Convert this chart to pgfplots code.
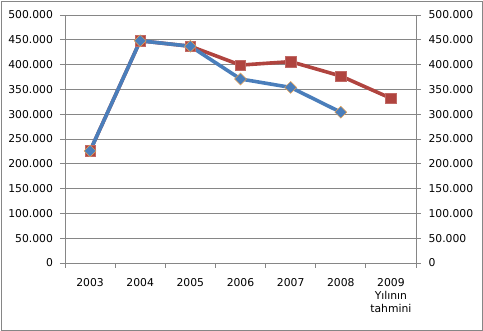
\documentclass[border=0pt]{standalone}
\usepackage{pgfplots}
\pgfplotsset{compat=1.18}
\usepackage{fontspec}
\setmainfont{DejaVu Sans}
\definecolor{serblue}{HTML}{4A7EBB}
\definecolor{serred}{HTML}{B0443F}
\definecolor{gridgray}{HTML}{868686}
\definecolor{mkorange}{HTML}{E8A050}
\pgfplotsset{
  common/.style={
    at={(65pt,68pt)}, anchor=south west, scale only axis,
    width=351pt, height=248pt,
    xmin=-0.5, xmax=6.5, ymin=0, ymax=500000,
    ytick={0,50000,...,500000},
    scaled y ticks=false,
    yticklabel style={/pgf/number format/fixed, /pgf/number format/precision=0, /pgf/number format/1000 sep={.}, /pgf/number format/assume math mode=true},
    tick align=outside, major tick length=5pt,
    tick style={gridgray, line width=0.8pt},
    axis line style={gridgray, line width=0.8pt},
    ticklabel style={font=\fontsize{10.8}{13}\selectfont, text=black},
  }
}
\begin{document}
\begin{tikzpicture}
\useasboundingbox (0,0) rectangle (483pt,331pt);
\draw[color=gridgray, line width=0.9pt] (1pt,1pt) rectangle (482pt,330pt);
\begin{axis}[common,
  axis x line*=bottom, axis y line*=left,
  xtick={-0.5,0.5,...,5.5},
  xticklabels={2003,2004,2005,2006,2007,2008,{2009\\Yılının\\tahmini}},
  x tick label style={align=center, xshift=25.07pt, anchor=north, yshift=-7pt},
  extra x ticks={6.5}, extra x tick labels={},
  ymajorgrids, grid style={gridgray, line width=0.8pt},
  yticklabel style={xshift=-3.5pt},
  clip=false]
\addplot[serred, line width=3.6pt, mark=square*, mark size=5.2pt, mark options={fill=serred, draw=serred!80, line width=0.5pt}]
  coordinates {(0,226000) (1,448000) (2,437000) (3,399000) (4,406000) (5,377000) (6,332000)};
\addplot[serblue, line width=3.6pt, mark=square*, mark size=4.2pt, mark options={rotate=45, fill=serblue, draw=mkorange, line width=0.5pt}]
  coordinates {(0,226000) (1,448000) (2,437000) (3,371000) (4,354000) (5,304000)};
\end{axis}
\begin{axis}[common,
  axis x line=none, axis y line*=right,
  yticklabel style={xshift=4pt}]
\end{axis}
\end{tikzpicture}
\end{document}
